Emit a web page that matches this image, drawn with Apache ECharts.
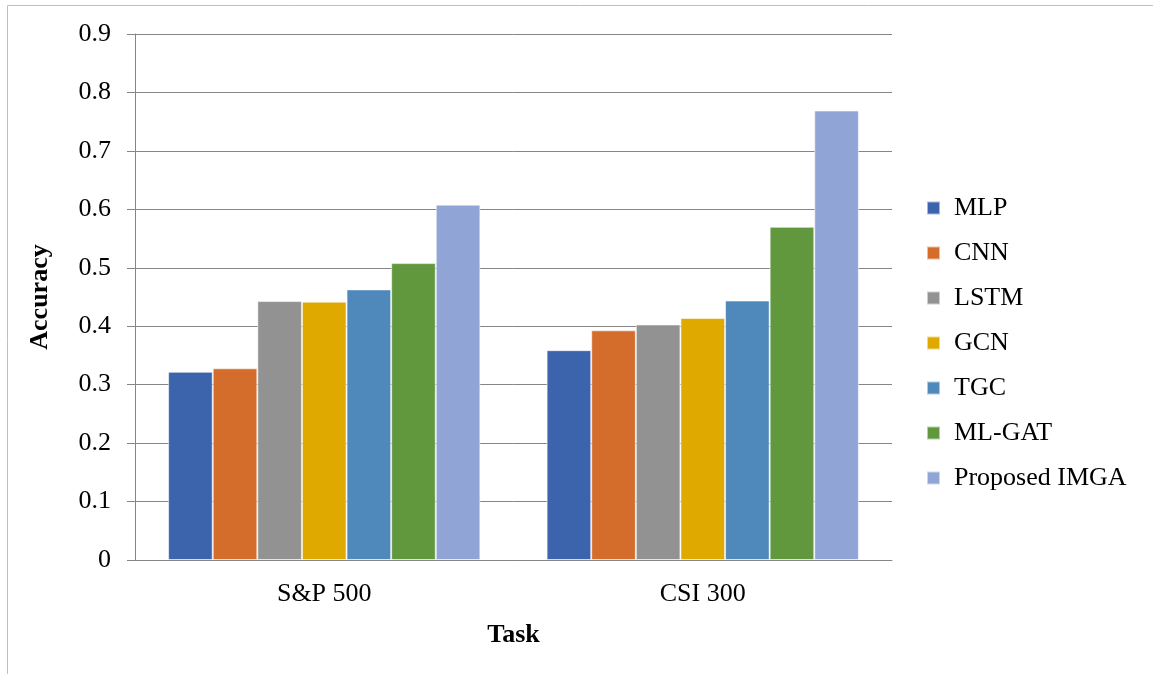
<!DOCTYPE html>
<html>
<head>
    <meta charset="utf-8">
    <script src="https://cdn.jsdelivr.net/npm/echarts@6/dist/echarts.min.js"></script>
    <style>
        html, body { margin: 0; padding: 0; background: #fff; }
    </style>
</head>
<body>
    <div id="main" style="width: 1153px;height:674px;"></div>
    <script type="text/javascript">
        // data
        var tasks = ['S&P 500', 'CSI 300'];
        var methods = ['MLP', 'CNN', 'LSTM', 'GCN', 'TGC', 'ML-GAT', 'Proposed IMGA'];
        var colors = ['#3c64ad', '#d46d2b', '#929292', '#e0a900', '#4f89bb', '#61983e', '#90a5d5'];
        var mlp = [0.322, 0.359];
        var cnn = [0.328, 0.393];
        var lstm = [0.443, 0.403];
        var gcn = [0.442, 0.414];
        var tgc = [0.463, 0.444];
        var mlgat = [0.508, 0.570];
        var imga = [0.608, 0.769];
        var yTicks = [0, 0.1, 0.2, 0.3, 0.4, 0.5, 0.6, 0.7, 0.8, 0.9];

        var allValues = [mlp, cnn, lstm, gcn, tgc, mlgat, imga];
        var font = '"Liberation Serif", "Times New Roman", serif';
        var fs = 26;

        var myChart = echarts.init(document.getElementById('main'));

        var series = methods.map(function (name, i) {
            return {
                name: name,
                type: 'bar',
                data: allValues[i],
                barGap: '0%',
                barCategoryGap: '17.5%',
                itemStyle: {
                    color: colors[i],
                    borderColor: 'rgba(255,255,255,0.55)',
                    borderWidth: 1
                }
            };
        });

        var option = {
            animation: false,
            color: colors,
            graphic: [{
                type: 'rect',
                shape: { x: 7.5, y: 5.5, width: 1200, height: 700 },
                style: { fill: 'none', stroke: '#c0c0c0', lineWidth: 1 },
                silent: true
            }],
            grid: { left: 135, right: 261, top: 34, bottom: 114 },
            legend: {
                orient: 'vertical',
                left: 921,
                top: 190,
                itemWidth: 13,
                itemHeight: 13,
                itemGap: 19,
                icon: 'rect',
                data: methods,
                textStyle: { fontFamily: font, fontSize: fs, color: '#000', padding: [0, 0, 0, 9] }
            },
            xAxis: {
                type: 'category',
                data: tasks,
                name: 'Task',
                nameLocation: 'middle',
                nameGap: 62,
                nameTextStyle: { fontFamily: font, fontSize: fs, fontWeight: 'bold', color: '#000' },
                axisLine: { lineStyle: { color: '#868686', width: 1 } },
                axisTick: { length: 7, lineStyle: { color: '#868686' } },
                axisLabel: { fontFamily: font, fontSize: fs, color: '#000', margin: 21 }
            },
            yAxis: {
                type: 'value',
                min: 0,
                max: 0.9,
                interval: 0.1,
                name: 'Accuracy',
                nameLocation: 'middle',
                nameGap: 82,
                nameTextStyle: { fontFamily: font, fontSize: fs, fontWeight: 'bold', color: '#000' },
                axisLine: { show: true, lineStyle: { color: '#868686', width: 1 } },
                axisTick: { show: true, length: 8, lineStyle: { color: '#868686' } },
                splitLine: { lineStyle: { color: '#868686', width: 1 } },
                axisLabel: {
                    fontFamily: font,
                    fontSize: fs,
                    color: '#000',
                    margin: 24,
                    formatter: function (v) {
                        var t = yTicks.find(function (x) { return Math.abs(x - v) < 1e-9; });
                        return t === 0 ? '0' : String(t);
                    }
                }
            },
            series: series
        };
        myChart.setOption(option);
    </script>
</body>
</html>
